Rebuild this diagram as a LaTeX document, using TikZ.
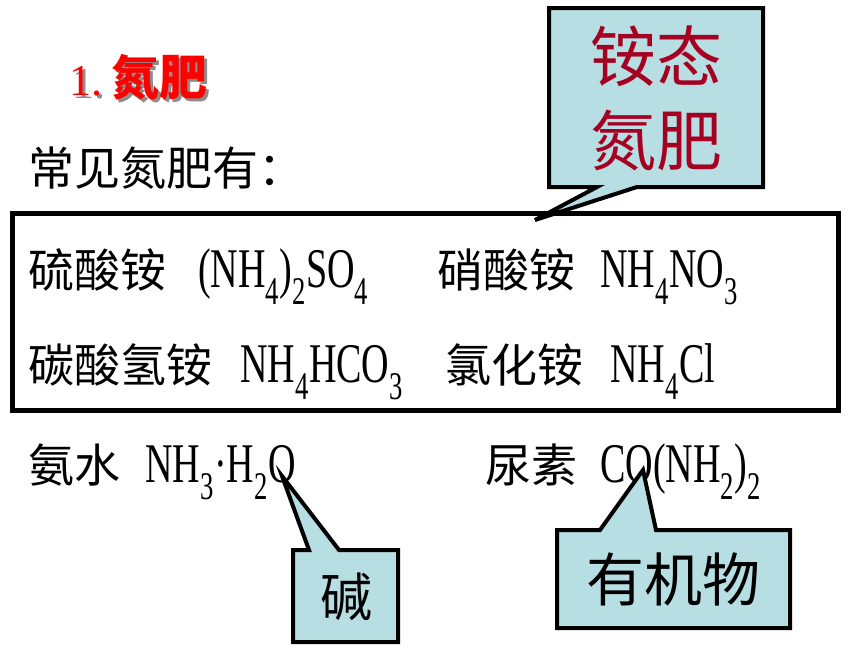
\documentclass[tikz,border=0pt]{standalone}
\usepackage{fontspec}
\usepackage{xcolor}
\setmainfont{Liberation Serif}
\newfontfamily\cjk{Noto Sans CJK SC}
\newfontfamily\formfont[FakeStretch=0.68]{Liberation Serif}
\definecolor{calloutfill}{HTML}{B7DEE2}
\definecolor{ammred}{HTML}{A50021}

\begin{document}
\begin{tikzpicture}[x=1pt, y=-1pt,
    cjktext/.style={font=\cjk\fontsize{46}{50}\selectfont, inner sep=0pt, anchor=base west},
    formula/.style={font=\formfont\fontsize{56}{60}\selectfont, inner sep=0pt, anchor=base west},
    headline/.style={inner sep=0pt, anchor=base west},
    callout/.style={fill=calloutfill, draw=black, line width=4pt, line join=miter}]
    \useasboundingbox (0,0) rectangle (860,645);
    % title with shadow
    \node[headline, text=black!45] (titleshadow) at (72,98)
      {{\fontsize{44}{48}\selectfont 1.}\hspace{9pt}{\cjk\bfseries\fontsize{48}{52}\selectfont 氮肥}};
    \node[headline, text=red] (title) at (69,95)
      {{\fontsize{44}{48}\selectfont 1.}\hspace{9pt}{\cjk\bfseries\fontsize{48}{52}\selectfont 氮肥}};
    \node[cjktext] (intro) at (28,185) {常见氮肥有：};
    % framed list
    \draw[line width=5pt] (12,213) rectangle (838,410);
    \node[cjktext] (sulfate) at (28,287) {硫酸铵};
    \node[formula] (sulfatef) at (198,287) {(NH\textsubscript{4})\textsubscript{2}SO\textsubscript{4}};
    \node[cjktext] (nitrate) at (437,287) {硝酸铵};
    \node[formula] (nitratef) at (600,287) {NH\textsubscript{4}NO\textsubscript{3}};
    \node[cjktext] (bicarb) at (28,382) {碳酸氢铵};
    \node[formula] (bicarbf) at (240,382) {NH\textsubscript{4}HCO\textsubscript{3}};
    \node[cjktext] (chloride) at (445,382) {氯化铵};
    \node[formula] (chloridef) at (610,382) {NH\textsubscript{4}Cl};
    % below the frame
    \node[cjktext] (ammonia) at (28,482) {氨水};
    \node[formula] (ammoniaf) at (145,482) {NH\textsubscript{3}·H\textsubscript{2}O};
    \node[cjktext] (urea) at (485,482) {尿素};
    \node[formula] (ureaf) at (600,482) {CO(NH\textsubscript{2})\textsubscript{2}};
    % callouts
    \coordinate (tipA) at (535,220);
    \coordinate (tipB) at (282,476);
    \coordinate (tipC) at (643,470);
    \filldraw[callout] (549,8) -- (763,8) -- (763,187) -- (637,187) -- (tipA)
      -- (597,187) -- (549,187) -- cycle;
    \node[text=ammred, font=\cjk\fontsize{66}{84}\selectfont, align=center] (ammlabel)
      at (656,98) {铵态\\氮肥};
    \filldraw[callout] (293,550) -- (309,550) -- (tipB) -- (339,550) -- (398,550)
      -- (398,642) -- (293,642) -- cycle;
    \node[font=\cjk\fontsize{52}{56}\selectfont] (baselabel) at (346,597) {碱};
    \filldraw[callout] (557,530) -- (600,530) -- (tipC) -- (656,530) -- (790,530)
      -- (790,628) -- (557,628) -- cycle;
    \node[font=\cjk\fontsize{58}{62}\selectfont] (orglabel) at (673,579) {有机物};
\end{tikzpicture}
\end{document}
